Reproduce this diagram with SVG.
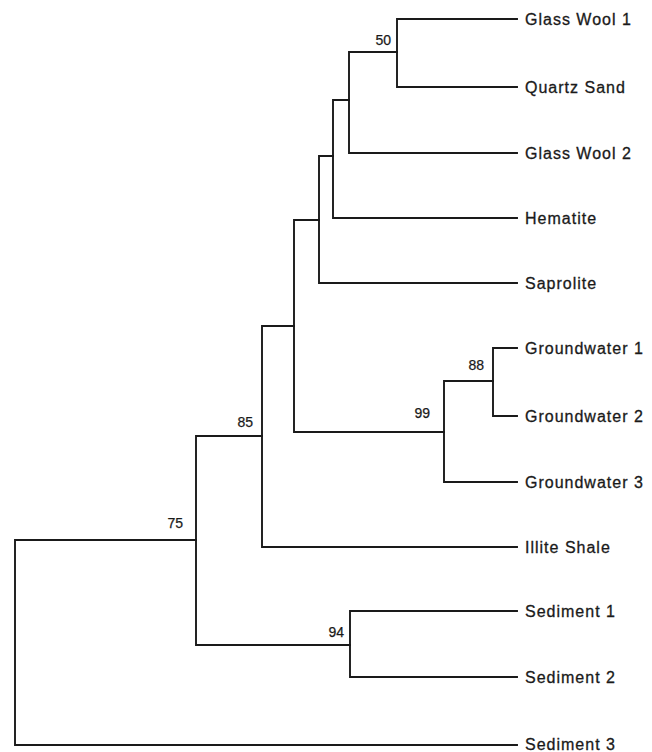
<svg xmlns="http://www.w3.org/2000/svg" width="652" height="752" viewBox="0 0 652 752">
<style>
.bg{fill:#ffffff}
.edge{fill:none;stroke:#1a1a1a;stroke-width:1.9;stroke-linecap:square}
.leaf{font-family:"Liberation Sans",Arial,sans-serif;font-size:16px;letter-spacing:1px;fill:#1a1a1a;stroke:#1a1a1a;stroke-width:0.3}
.bs{font-family:"Liberation Sans",Arial,sans-serif;font-size:14px;fill:#1a1a1a;stroke:#1a1a1a;stroke-width:0.25;text-anchor:end}
</style>
<rect class="bg" x="0" y="0" width="652" height="752"/>
<g id="connectors">
<path class="edge" d="M517,19 H397 V87 H517"/>
<path class="edge" d="M397,52 H349 V153 H517"/>
<path class="edge" d="M349,100 H333 V218 H517"/>
<path class="edge" d="M333,156 H319 V283 H517"/>
<path class="edge" d="M517,348 H493 V416 H517"/>
<path class="edge" d="M493,381 H444 V482 H517"/>
<path class="edge" d="M319,220 H294 V432 H444"/>
<path class="edge" d="M294,326 H262 V547 H517"/>
<path class="edge" d="M517,611 H350 V677 H517"/>
<path class="edge" d="M262,436 H196 V645 H350"/>
<path class="edge" d="M196,540 H15 V745 H517"/>
</g>
<g id="leaf-glass-wool-1"><text class="leaf" x="525" y="25">Glass Wool 1</text></g>
<g id="leaf-quartz-sand"><text class="leaf" x="525" y="93">Quartz Sand</text></g>
<g id="leaf-glass-wool-2"><text class="leaf" x="525" y="159">Glass Wool 2</text></g>
<g id="leaf-hematite"><text class="leaf" x="525" y="224">Hematite</text></g>
<g id="leaf-saprolite"><text class="leaf" x="525" y="289">Saprolite</text></g>
<g id="leaf-groundwater-1"><text class="leaf" x="525" y="354">Groundwater 1</text></g>
<g id="leaf-groundwater-2"><text class="leaf" x="525" y="422">Groundwater 2</text></g>
<g id="leaf-groundwater-3"><text class="leaf" x="525" y="488">Groundwater 3</text></g>
<g id="leaf-illite-shale"><text class="leaf" x="525" y="553">Illite Shale</text></g>
<g id="leaf-sediment-1"><text class="leaf" x="525" y="617">Sediment 1</text></g>
<g id="leaf-sediment-2"><text class="leaf" x="525" y="683">Sediment 2</text></g>
<g id="leaf-sediment-3"><text class="leaf" x="525" y="750">Sediment 3</text></g>
<g id="node-50"><text class="bs" x="391" y="45">50</text></g>
<g id="node-88"><text class="bs" x="484" y="370">88</text></g>
<g id="node-99"><text class="bs" x="430" y="418">99</text></g>
<g id="node-85"><text class="bs" x="253" y="427">85</text></g>
<g id="node-75"><text class="bs" x="183" y="528">75</text></g>
<g id="node-94"><text class="bs" x="344" y="637">94</text></g>
</svg>
